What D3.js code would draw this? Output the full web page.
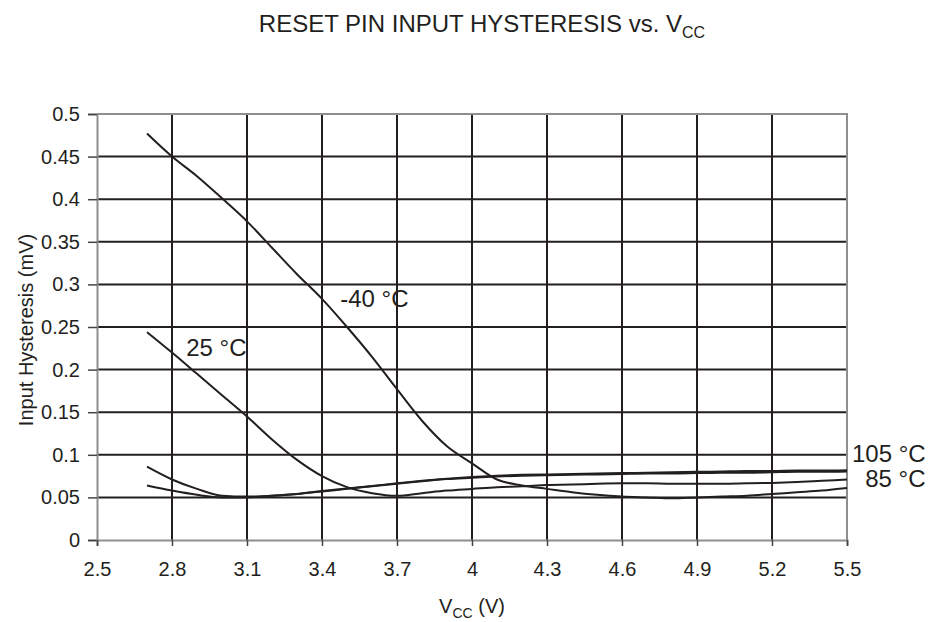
<!DOCTYPE html>
<html>
<head>
<meta charset="utf-8">
<script src="https://cdn.jsdelivr.net/npm/d3@7"></script>
<style>
  body { margin: 0; background: #fff; }
  svg { display: block; font-family: Arial, "Liberation Sans", sans-serif; }
</style>
</head>
<body>
<div id="chart"></div>
<script>
// supply voltage (V)
const vcc = [2.7, 2.8, 2.9, 3.0, 3.1, 3.2, 3.3, 3.4, 3.5, 3.6, 3.7, 3.8, 3.9, 4.0,
             4.1, 4.2, 4.3, 4.4, 4.5, 4.6, 4.7, 4.8, 4.9, 5.0, 5.1, 5.2, 5.3, 5.4, 5.5];

// hysteresis per temperature (mV)
const hystM40 = [0.477, 0.450, 0.427, 0.401, 0.374, 0.343, 0.312, 0.283, 0.250, 0.215,
                 0.177, 0.140, 0.110, 0.090, 0.071, 0.064, 0.060, 0.056, 0.053, 0.051,
                 0.050, 0.049, 0.050, 0.051, 0.052, 0.054, 0.056, 0.058, 0.061];
const hyst25 = [0.244, 0.220, 0.195, 0.170, 0.145, 0.118, 0.094, 0.075, 0.062, 0.055,
                0.052, 0.055, 0.058, 0.060, 0.062, 0.063, 0.0645, 0.065, 0.066, 0.0665,
                0.0665, 0.066, 0.066, 0.066, 0.0665, 0.067, 0.068, 0.0695, 0.071];
const hyst85 = [0.086, 0.071, 0.060, 0.052, 0.051, 0.052, 0.054, 0.057, 0.060, 0.063,
                0.066, 0.069, 0.0715, 0.073, 0.0745, 0.0755, 0.076, 0.0765, 0.077, 0.0775,
                0.078, 0.078, 0.0785, 0.079, 0.079, 0.0795, 0.080, 0.080, 0.0805];
const hyst105 = [0.064, 0.058, 0.053, 0.050, 0.050, 0.052, 0.054, 0.0575, 0.0605, 0.0635,
                 0.0665, 0.0695, 0.072, 0.074, 0.0755, 0.0765, 0.077, 0.0775, 0.078, 0.0785,
                 0.079, 0.0795, 0.080, 0.0805, 0.081, 0.081, 0.0815, 0.0815, 0.082];

const seriesNames = ['-40 °C', '25 °C', '85 °C', '105 °C'];
const seriesValues = [hystM40, hyst25, hyst85, hyst105];

// tick values
const xTicks = [2.5, 2.8, 3.1, 3.4, 3.7, 4, 4.3, 4.6, 4.9, 5.2, 5.5];
const yTicks = [0, 0.05, 0.1, 0.15, 0.2, 0.25, 0.3, 0.35, 0.4, 0.45, 0.5];

// where each curve label sits (data coords of text start / baseline)
const labelX = [3.473, 2.857, 5.573, 5.52];
const labelY = [0.274, 0.2163, 0.0619, 0.092];

const W = 932, H = 622;
const margin = {top: 114, right: 85, bottom: 82, left: 97};
const iw = W - margin.left - margin.right;
const ih = H - margin.top - margin.bottom;
const ink = '#231f20';

const svg = d3.select('#chart').append('svg')
    .attr('width', W)
    .attr('height', H);

const x = d3.scaleLinear().domain([2.5, 5.5]).range([0, iw]);
const y = d3.scaleLinear().domain([0, 0.5]).range([ih, 0]);

const g = svg.append('g')
    .attr('transform', `translate(${margin.left},${margin.top})`);

// grid
g.append('g')
    .selectAll('line')
    .data(yTicks.slice(1, -1))
    .join('line')
    .attr('x1', 0).attr('x2', iw)
    .attr('y1', d => y(d)).attr('y2', d => y(d))
    .attr('stroke', ink)
    .attr('stroke-width', 2);

g.append('g')
    .selectAll('line')
    .data(xTicks.slice(1, -1))
    .join('line')
    .attr('x1', d => x(d)).attr('x2', d => x(d))
    .attr('y1', 0).attr('y2', ih)
    .attr('stroke', ink)
    .attr('stroke-width', 2);

// plot border (top/right)
g.append('path')
    .attr('d', `M0,0H${iw}V${ih}`)
    .attr('fill', 'none')
    .attr('stroke', '#8e8e8e')
    .attr('stroke-width', 2);

// axes
const yAxis = g.append('g')
    .call(d3.axisLeft(y).tickValues(yTicks).tickSize(9).tickPadding(8)
        .tickFormat(d => String(+d.toFixed(2))));
const xAxis = g.append('g')
    .attr('transform', `translate(0,${ih})`)
    .call(d3.axisBottom(x).tickValues(xTicks).tickSize(6).tickPadding(16)
        .tickFormat(d => String(d)));

[yAxis, xAxis].forEach(ax => {
    ax.attr('font-size', null).attr('font-family', null);
    ax.select('.domain').attr('stroke', '#8e8e8e').attr('stroke-width', 2);
    ax.selectAll('.tick line').attr('stroke', '#444').attr('stroke-width', 1.5);
    ax.selectAll('text')
        .attr('fill', ink)
        .style('font-size', '20px');
});

// curves
const line = d3.line()
    .x((d, i) => x(vcc[i]))
    .y(d => y(d))
    .curve(d3.curveMonotoneX);

g.append('g')
    .selectAll('path')
    .data(seriesValues)
    .join('path')
    .attr('d', d => line(d))
    .attr('fill', 'none')
    .attr('stroke', ink)
    .attr('stroke-width', 2);

// curve labels
g.append('g')
    .selectAll('text')
    .data(seriesNames)
    .join('text')
    .attr('x', (d, i) => x(labelX[i]))
    .attr('y', (d, i) => y(labelY[i]))
    .attr('fill', ink)
    .style('font-size', '24px')
    .text(d => d);

// title
const title = svg.append('text')
    .attr('x', 482)
    .attr('y', 32)
    .attr('text-anchor', 'middle')
    .attr('fill', ink)
    .style('font-size', '24px');
title.append('tspan').text('RESET PIN INPUT HYSTERESIS vs. V');
title.append('tspan').attr('dy', 6).style('font-size', '16px').text('CC');

// x axis title
const xt = svg.append('text')
    .attr('x', margin.left + iw / 2)
    .attr('y', 613)
    .attr('text-anchor', 'middle')
    .attr('fill', ink)
    .style('font-size', '20px');
xt.append('tspan').text('V');
xt.append('tspan').attr('dy', 5).style('font-size', '14px').text('CC');
xt.append('tspan').attr('dy', -5).text(' (V)');

// y axis title
svg.append('text')
    .attr('transform', `translate(33,${margin.top + ih / 2 + 3}) rotate(-90)`)
    .attr('text-anchor', 'middle')
    .attr('fill', ink)
    .style('font-size', '20px')
    .text('Input Hysteresis (mV)');
</script>
</body>
</html>
